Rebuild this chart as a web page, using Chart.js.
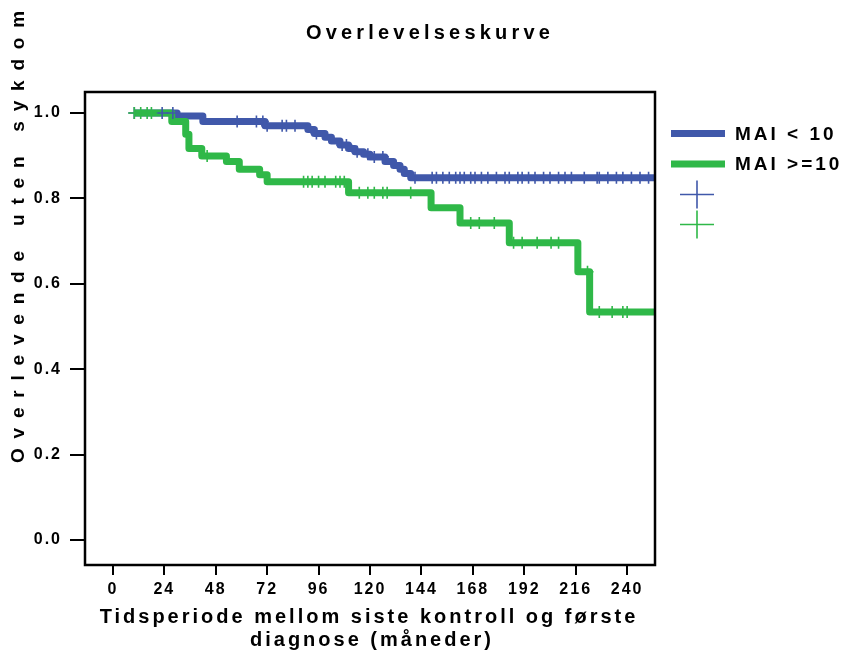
<!DOCTYPE html>
<html>
<head>
<meta charset="utf-8">
<title>Overlevelseskurve</title>
<script src="https://cdn.jsdelivr.net/npm/chart.js@4.4.0/dist/chart.umd.min.js"></script>
<style>
  body { margin: 0; background: #fff; }
  .chart-wrap { position: relative; width: 847px; height: 653px; }
</style>
</head>
<body>
<div class="chart-wrap"><canvas id="survivalChart"></canvas></div>
<script>
// Kaplan-Meier steps (months, survival)
const lowTimes = [10, 30, 42, 71, 91, 94, 99, 102, 106, 110, 113, 117, 120, 127, 131, 134, 136, 139, 253];
const lowSurv  = [1.0, 0.993, 0.98, 0.97, 0.961, 0.952, 0.943, 0.934, 0.925, 0.917, 0.909, 0.903, 0.897, 0.886, 0.877, 0.868, 0.858, 0.848, 0.848];
const lowCensored = [10, 23, 28, 58, 67, 70, 72, 79, 81, 85, 95, 107, 109, 114, 119, 122, 126, 141, 149, 151, 154, 157, 160, 162, 164, 167, 169, 172, 175, 179, 183, 185, 189, 191, 194, 197, 201, 204, 208, 211, 214, 220, 226, 227, 231, 235, 238, 242, 246, 250];

const highTimes = [10, 27.5, 34, 35.5, 41.5, 53, 59, 68.5, 72, 110, 148.5, 162, 185, 217, 222.5, 253];
const highSurv  = [1.0, 0.98, 0.95, 0.917, 0.899, 0.886, 0.868, 0.855, 0.839, 0.813, 0.778, 0.742, 0.696, 0.628, 0.534, 0.534];
const highCensored = [10, 13, 16, 18, 44, 89, 91, 93, 96, 99, 104, 106, 108, 115, 119, 122, 126, 128, 139, 167, 171, 178, 187, 191, 198, 204.5, 208, 221.5, 227, 233, 238, 240];

const xTicks = [0, 24, 48, 72, 96, 120, 144, 168, 192, 216, 240];
const yTicks = [0.0, 0.2, 0.4, 0.6, 0.8, 1.0];
const seriesNames = ['MAI < 10', 'MAI >=10'];

const BLUE = '#4058AA';
const GREEN = '#2FB848';
const FONT = "'Liberation Sans', Arial, sans-serif";

function toPoints(times, surv) {
    return times.map((t, i) => ({ x: t, y: surv[i] }));
}

// survival value of the step curve at time t (for placing censor marks)
function survAt(times, surv, t) {
    let s = surv[0];
    for (let i = 0; i < times.length; i++) {
        if (times[i] <= t) s = surv[i];
    }
    return s;
}

function censorPoints(list, times, surv) {
    return list.map(t => ({ x: t, y: survAt(times, surv, t) }));
}

function spacedText(ctx, text, x, y, spacing) {
    if ('letterSpacing' in ctx) ctx.letterSpacing = spacing + 'px';
    ctx.fillText(text, x, y);
    if ('letterSpacing' in ctx) ctx.letterSpacing = '0px';
}

const decorPlugin = {
    id: 'decor',
    beforeDraw(chart) {
        if ('letterSpacing' in chart.ctx) chart.ctx.letterSpacing = '2px';
    },
    afterDraw(chart) {
        const ctx = chart.ctx;
        const a = chart.chartArea;
        ctx.save();
        if ('letterSpacing' in ctx) ctx.letterSpacing = '0px';

        // plot frame
        ctx.strokeStyle = '#000';
        ctx.lineWidth = 2.5;
        ctx.strokeRect(a.left, a.top, a.right - a.left, a.bottom - a.top);

        ctx.fillStyle = '#000';
        ctx.textBaseline = 'middle';
        ctx.textAlign = 'center';

        // title
        ctx.font = 'bold 20px ' + FONT;
        spacedText(ctx, 'Overlevelseskurve', 430, 33, 4.2);

        // x axis title
        ctx.font = 'bold 20px ' + FONT;
        spacedText(ctx, 'Tidsperiode mellom siste kontroll og første', 369, 617, 3);
        spacedText(ctx, 'diagnose (måneder)', 372, 640, 3);

        // y axis title
        ctx.save();
        ctx.translate(19, 232);
        ctx.rotate(-Math.PI / 2);
        ctx.font = 'bold 19px ' + FONT;
        spacedText(ctx, 'Overlevende uten sykdom', 0, 0, 9.8);
        ctx.restore();

        // legend
        const colors = [BLUE, GREEN];
        const rows = [133.5, 164];
        ctx.textAlign = 'left';
        ctx.font = 'bold 19px ' + FONT;
        rows.forEach((y, i) => {
            ctx.strokeStyle = colors[i];
            ctx.lineWidth = 7;
            ctx.beginPath();
            ctx.moveTo(671, y);
            ctx.lineTo(725, y);
            ctx.stroke();
            ctx.fillStyle = '#000';
            spacedText(ctx, seriesNames[i], 735, y + 1, 3);
        });
        [194.5, 224.5].forEach((y, i) => {
            ctx.strokeStyle = colors[i];
            ctx.lineWidth = 1.6;
            ctx.beginPath();
            ctx.moveTo(680, y);
            ctx.lineTo(714, y);
            ctx.moveTo(697, y - 14);
            ctx.lineTo(697, y + 14);
            ctx.stroke();
        });
        ctx.restore();
    }
};

const ctx = document.getElementById('survivalChart');
new Chart(ctx, {
    type: 'line',
    data: {
        datasets: [
            {
                label: seriesNames[0],
                data: toPoints(lowTimes, lowSurv),
                borderColor: BLUE,
                borderWidth: 7,
                stepped: true,
                pointRadius: 0,
                fill: false,
                borderJoinStyle: 'round',
                order: 4
            },
            {
                label: seriesNames[1],
                data: toPoints(highTimes, highSurv),
                borderColor: GREEN,
                borderWidth: 7,
                stepped: true,
                pointRadius: 0,
                fill: false,
                borderJoinStyle: 'round',
                order: 3
            },
            {
                label: seriesNames[0] + ' sensurert',
                data: censorPoints(lowCensored, lowTimes, lowSurv),
                showLine: false,
                pointStyle: 'cross',
                pointRadius: 6,
                pointBorderWidth: 1.6,
                borderColor: BLUE,
                backgroundColor: BLUE,
                order: 2
            },
            {
                label: seriesNames[1] + ' sensurert',
                data: censorPoints(highCensored, highTimes, highSurv),
                showLine: false,
                pointStyle: 'cross',
                pointRadius: 6,
                pointBorderWidth: 1.6,
                borderColor: GREEN,
                backgroundColor: GREEN,
                order: 1
            }
        ]
    },
    options: {
        responsive: true,
        maintainAspectRatio: false,
        animation: false,
        layout: { padding: { left: 0, top: 92, right: 192, bottom: 0 } },
        plugins: {
            legend: { display: false },
            title: { display: false },
            tooltip: { enabled: false }
        },
        scales: {
            x: {
                type: 'linear',
                min: -13,
                max: 253,
                afterFit: s => { s.height = 88; },
                afterBuildTicks: s => { s.ticks = xTicks.map(v => ({ value: v })); },
                grid: { drawOnChartArea: false, drawTicks: true, tickLength: 10, color: '#000', lineWidth: 2 },
                border: { display: false },
                ticks: {
                    autoSkip: false,
                    maxRotation: 0,
                    padding: 5,
                    color: '#000',
                    font: { family: FONT, size: 16, weight: 'bold' }
                }
            },
            y: {
                type: 'linear',
                min: -0.0585,
                max: 1.049,
                afterFit: s => { s.width = 85; },
                afterBuildTicks: s => { s.ticks = yTicks.map(v => ({ value: v })); },
                grid: { drawOnChartArea: false, drawTicks: true, tickLength: 15, color: '#000', lineWidth: 2 },
                border: { display: false },
                ticks: {
                    padding: 8,
                    color: '#000',
                    font: { family: FONT, size: 16, weight: 'bold' },
                    callback: v => v.toFixed(1)
                }
            }
        }
    },
    plugins: [decorPlugin]
});
</script>
</body>
</html>
